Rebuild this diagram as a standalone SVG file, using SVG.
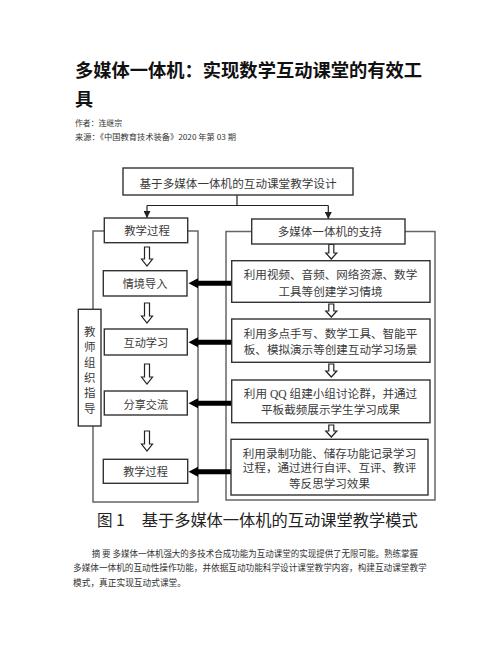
<svg xmlns="http://www.w3.org/2000/svg" width="502" height="649" viewBox="0 0 502 649">
<defs>
<style>
.sans{font-family:"Noto Sans CJK SC","Liberation Sans",sans-serif;}
.serif{font-family:"Liberation Serif","Noto Sans CJK SC",serif;fill:#3a3a3a;font-size:11.5px;}
.box{fill:#fff;stroke:#333;stroke-width:1.4;}
.frame{fill:none;stroke:#666;stroke-width:1.5;}
.conn{fill:none;stroke:#222;stroke-width:1.2;}
.hollow{fill:#fff;stroke:#222;stroke-width:1.2;}
.thick{fill:#000;stroke:none;}
</style>
<marker id="ah" viewBox="0 0 10 10" refX="10" refY="5" markerWidth="7" markerHeight="7" markerUnits="userSpaceOnUse" orient="auto">
<path d="M0,0 L10,5 L0,10 z" fill="#222"/>
</marker>
</defs>
<rect width="502" height="649" fill="#fff"/>

<g id="header" class="sans">
<text x="75" y="77" font-size="18" font-weight="bold" fill="#111" textLength="347" lengthAdjust="spacingAndGlyphs">多媒体一体机：实现数学互动课堂的有效工</text>
<text x="75" y="106" font-size="18" font-weight="bold" fill="#111">具</text>
<text x="75" y="125.5" font-size="7.8" fill="#333" textLength="47" lengthAdjust="spacingAndGlyphs">作者：连继宗</text>
<text x="75" y="140" font-size="7.8" fill="#333" textLength="161" lengthAdjust="spacingAndGlyphs">来源：《中国教育技术装备》2020 年第 03 期</text>
</g>

<g id="frames">
<rect class="frame" x="93" y="231" width="105" height="271"/>
<rect class="frame" x="226" y="231.5" width="209" height="268.5"/>
</g>

<g id="connectors">
<path class="conn" d="M237,195 V205.5 M147,205.5 H328.3"/>
<path class="conn" d="M147,205.5 V218" marker-end="url(#ah)"/>
<path class="conn" d="M328.3,205.5 V219" marker-end="url(#ah)"/>
<!-- left hollow arrows -->
<path class="hollow" d="M144.5,247 h5 v12 h3 l-5.5,7 l-5.5,-7 h3 z"/>
<path class="hollow" d="M144.5,303 h5 v13 h3 l-5.5,7 l-5.5,-7 h3 z"/>
<path class="hollow" d="M144.5,364 h5 v13 h3 l-5.5,7 l-5.5,-7 h3 z"/>
<path class="hollow" d="M144.5,431 h5 v13 h3 l-5.5,7 l-5.5,-7 h3 z"/>
<!-- right hollow arrows -->
<path class="hollow" d="M328.8,244.5 h5 v8.5 h3 l-5.5,6 l-5.5,-6 h3 z"/>
<path class="hollow" d="M328.8,304 h5 v7 h3 l-5.5,6 l-5.5,-6 h3 z"/>
<path class="hollow" d="M328.8,364 h5 v7 h3 l-5.5,6 l-5.5,-6 h3 z"/>
<path class="hollow" d="M328.8,425 h5 v6 h3 l-5.5,6 l-5.5,-6 h3 z"/>
<!-- thick black arrows -->
<path class="thick" d="M231,280.8 H198 V278.3 L188.5,283.3 L198,288.3 V285.8 H231 z"/>
<path class="thick" d="M231,339.8 H198 V337.3 L188.5,342.3 L198,347.3 V344.8 H231 z"/>
<path class="thick" d="M231,400.8 H198 V398.3 L188.5,403.3 L198,408.3 V405.8 H231 z"/>
<path class="thick" d="M231,469.2 H198 V466.7 L188.5,471.7 L198,476.7 V474.2 H231 z"/>
</g>

<g id="top">
<rect class="box" x="123" y="168" width="230" height="27"/>
<text class="serif" x="238" y="187.7" text-anchor="middle" textLength="197" lengthAdjust="spacingAndGlyphs">基于多媒体一体机的互动课堂教学设计</text>
</g>

<g id="left-head">
<rect class="box" x="104.3" y="218" width="83.4" height="24.7"/>
<text class="serif" x="147" y="235.4" text-anchor="middle" textLength="45.7" lengthAdjust="spacingAndGlyphs">教学过程</text>
</g>

<g id="right-head">
<rect class="box" x="251.7" y="219" width="153.3" height="25"/>
<text class="serif" x="329.7" y="236.1" text-anchor="middle" textLength="104" lengthAdjust="spacingAndGlyphs">多媒体一体机的支持</text>
</g>

<g id="l1">
<rect class="box" x="103.3" y="270.7" width="83.7" height="25.3"/>
<text class="serif" x="145" y="288.4" text-anchor="middle" textLength="44.6" lengthAdjust="spacingAndGlyphs">情境导入</text>
</g>
<g id="l2">
<rect class="box" x="104.3" y="329" width="83" height="26"/>
<text class="serif" x="145.8" y="347.1" text-anchor="middle" textLength="44.6" lengthAdjust="spacingAndGlyphs">互动学习</text>
</g>
<g id="l3">
<rect class="box" x="104.3" y="391" width="83" height="24"/>
<text class="serif" x="145.8" y="408.7" text-anchor="middle" textLength="44.6" lengthAdjust="spacingAndGlyphs">分享交流</text>
</g>
<g id="l4">
<rect class="box" x="103.3" y="459.3" width="84.4" height="24"/>
<text class="serif" x="145.5" y="476.1" text-anchor="middle" textLength="44.6" lengthAdjust="spacingAndGlyphs">教学过程</text>
</g>

<g id="teacher">
<rect class="box" x="78.3" y="309.3" width="22.7" height="116.7"/>
<g class="serif" font-size="15" text-anchor="middle">
<text x="89.7" y="336">教</text>
<text x="89.7" y="351.3">师</text>
<text x="89.7" y="366.6">组</text>
<text x="89.7" y="381.9">织</text>
<text x="89.7" y="397.2">指</text>
<text x="89.7" y="412.5">导</text>
</g>
</g>

<g id="r1">
<rect class="box" x="231.7" y="260.7" width="198.3" height="41.6"/>
<text class="serif" x="330.5" y="279.4" text-anchor="middle" textLength="173.4" lengthAdjust="spacingAndGlyphs">利用视频、音频、网络资源、数学</text>
<text class="serif" x="330.5" y="296.1" text-anchor="middle" textLength="104" lengthAdjust="spacingAndGlyphs">工具等创建学习情境</text>
</g>
<g id="r2">
<rect class="box" x="231.7" y="319" width="198.3" height="43.3"/>
<text class="serif" x="330.5" y="338.4" text-anchor="middle" textLength="173.4" lengthAdjust="spacingAndGlyphs">利用多点手写、数学工具、智能平</text>
<text class="serif" x="330.5" y="354.4" text-anchor="middle" textLength="173.4" lengthAdjust="spacingAndGlyphs">板、模拟演示等创建互动学习场景</text>
</g>
<g id="r3">
<rect class="box" x="231.7" y="380" width="198.3" height="42.7"/>
<text class="serif" x="330.5" y="398.4" text-anchor="middle" textLength="173.4" lengthAdjust="spacingAndGlyphs">利用 QQ 组建小组讨论群，并通过</text>
<text class="serif" x="330.5" y="414.4" text-anchor="middle" textLength="139" lengthAdjust="spacingAndGlyphs">平板截频展示学生学习成果</text>
</g>
<g id="r4">
<rect class="box" x="231" y="439.3" width="197" height="55.7"/>
<text class="serif" x="329.5" y="457.7" text-anchor="middle" textLength="173.4" lengthAdjust="spacingAndGlyphs">利用录制功能、储存功能记录学习</text>
<text class="serif" x="329.5" y="471.7" text-anchor="middle" textLength="173.4" lengthAdjust="spacingAndGlyphs">过程，通过进行自评、互评、教评</text>
<text class="serif" x="329.5" y="487.7" text-anchor="middle" textLength="81" lengthAdjust="spacingAndGlyphs">等反思学习效果</text>
</g>

<g id="caption" class="sans" fill="#222">
<text x="97" y="526.3" font-size="15.5">图 1</text>
<text x="141.7" y="526.3" font-size="15.5" textLength="276" lengthAdjust="spacingAndGlyphs">基于多媒体一体机的互动课堂教学模式</text>
</g>

<g id="abstract" class="sans" fill="#333" font-size="8.8">
<text x="91.7" y="557.3" textLength="326.3" lengthAdjust="spacingAndGlyphs">摘 要 多媒体一体机强大的多技术合成功能为互动课堂的实现提供了无限可能。熟练掌握</text>
<text x="73" y="571" textLength="353.7" lengthAdjust="spacingAndGlyphs">多媒体一体机的互动性操作功能，并依据互动功能科学设计课堂教学内容，构建互动课堂教学</text>
<text x="73" y="586" textLength="113" lengthAdjust="spacingAndGlyphs">模式，真正实现互动式课堂。</text>
</g>
</svg>
